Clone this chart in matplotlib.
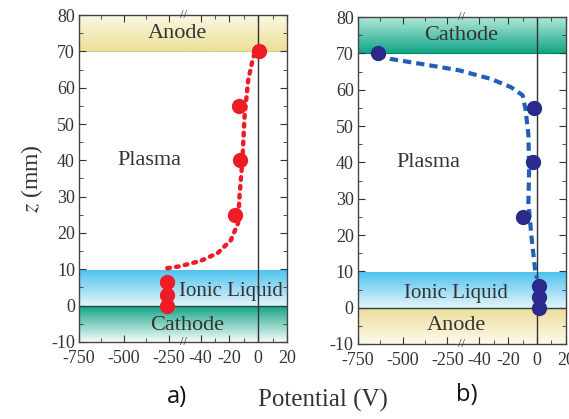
import numpy as np
import matplotlib
matplotlib.use("Agg")
import matplotlib.pyplot as plt
from matplotlib.colors import LinearSegmentedColormap

plt.rcParams["font.family"] = ["Liberation Serif", "DejaVu Serif"]
plt.rcParams["mathtext.fontset"] = "stix"
plt.rcParams["axes.unicode_minus"] = False

# broken potential axis: [-750, -170] | [-52, 20]
brk_v = [-750, -170, -52, 20]
brk_t = [0.0, 0.4995, 0.5005, 1.0]

xticks = [-750, -500, -250, -40, -20, 0, 20]
xminor = [-625, -375, -30, -10, 10]

# panel a) measured points
a_v = [-260, -260, -260, -16, -12.5, -13, 0.5]
a_z = [0, 3, 6.5, 25, 40, 55, 70]
# panel a) fitted curve (read off)
a_fit_v = [-258, -190, -40, -28, -19, -14, -13, -11, -9.5, -7, -3.5, -1]
a_fit_z = [10.3, 10.8, 12.3, 14.5, 18, 22.7, 30, 40, 52, 62, 68.4, 70.4]

# panel b) measured points
b_v = [1, 1, 1, -10, -3, -2, -640]
b_z = [0, 3, 6, 25, 40, 55, 70]
b_fit_v = [-640, -568, -381, -188, -32, -18, -10, -8, -6, -5.5, -6, -4, -1.4, 0]
b_fit_z = [70, 68.5, 67, 65.4, 63, 60.7, 58.5, 54.7, 47.5, 38, 29, 20, 10.6, 8]

SERIF = ["Liberation Serif", "DejaVu Serif"]
INK = "#333333"


def fwd(x):
    return np.interp(x, brk_v, brk_t)


def inv(t):
    return np.interp(t, brk_t, brk_v)


def band(ax, z0, z1, c_bottom, c_top):
    cmap = LinearSegmentedColormap.from_list("g", [c_bottom, c_top])
    grad = np.linspace(0, 1, 100).reshape(-1, 1)
    ax.imshow(grad, cmap=cmap, origin="lower", aspect="auto",
              extent=(0, 1, z0, z1), transform=ax.get_yaxis_transform(),
              zorder=0, interpolation="bilinear")


def setup(ax):
    ax.set_xscale("function", functions=(fwd, inv))
    ax.set_xlim(-750, 20)
    ax.set_ylim(-10, 80)
    ax.set_xticks(xticks)
    ax.set_xticks(xminor, minor=True)
    ax.set_xticklabels([str(t) for t in xticks], fontfamily=SERIF)
    yt = list(range(-10, 81, 10))
    ax.set_yticks(yt)
    ax.set_yticklabels([str(t) for t in yt], fontfamily=SERIF)
    ax.set_yticks(range(-5, 81, 10), minor=True)
    ax.tick_params(which="both", direction="in", top=True, right=True,
                   labelsize=13, colors=INK)
    ax.tick_params(axis="x", pad=6)
    ax.tick_params(axis="y", pad=3)
    ax.tick_params(which="major", length=5)
    ax.tick_params(which="minor", length=3)
    for s in ax.spines.values():
        s.set_color("#444444")
        s.set_linewidth(1.0)
    ax.axvline(0, color=INK, lw=1.0, zorder=2)
    ax.axhline(0, color="#1d4b44", lw=1.0, zorder=2)
    # break marks
    for yy in (1.0, 0.0):
        ax.text(0.5, yy, "//", transform=ax.transAxes, ha="center",
                va="center", fontsize=9, color=INK, zorder=5)


fig = plt.figure(figsize=(5.69, 4.19), dpi=100)
ax1 = fig.add_axes([0.139, 0.184, 0.3656, 0.780])
ax2 = fig.add_axes([0.629, 0.179, 0.3656, 0.780])

# ---- panel a
setup(ax1)
band(ax1, 70, 80, "#ece098", "#fbf9e6")
band(ax1, 0, 10, "#e3f4fb", "#4cc2ee")
band(ax1, -10, 0, "#f2fbf8", "#11a386")
ax1.axhline(70, color="#d8cf90", lw=0.8, zorder=1)
ax1.plot(a_fit_v, a_fit_z, ls=(0, (0.6, 1.4)), color="#ee1c25", lw=3.2,
         dash_capstyle="round", zorder=3)
ax1.plot(a_v, a_z, "o", color="#ee1c25", ms=10, zorder=4)
ax1.text(-200, 75, "Anode", fontsize=16, ha="center", va="center", color=INK)
ax1.text(-355, 40, "Plasma", fontsize=16, ha="center", va="center", color=INK)
ax1.text(-19, 4, "Ionic Liquid", fontsize=15, ha="center", va="center", color=INK)
ax1.text(-49, -5.5, "Cathode", fontsize=16, ha="center", va="center", color=INK)
ax1.set_ylabel("$z$ (mm)", fontsize=17, color=INK, labelpad=4)

# ---- panel b
setup(ax2)
band(ax2, 70, 80, "#13a888", "#b6e8dc")
band(ax2, 0, 10, "#e3f4fb", "#4cc2ee")
band(ax2, -10, 0, "#fcfaec", "#eedc98")
ax2.axhline(70, color="#0e7f69", lw=0.8, zorder=1)
ax2.plot(b_fit_v, b_fit_z, ls=(0, (2.0, 1.2)), color="#1f60b8", lw=3.0, zorder=3)
ax2.plot(b_v, b_z, "o", color="#2b2a8c", ms=10, zorder=4)
ax2.text(-175, 75, "Cathode", fontsize=16, ha="center", va="center", color=INK)
ax2.text(-355, 40, "Plasma", fontsize=16, ha="center", va="center", color=INK)
ax2.text(-200, 4, "Ionic Liquid", fontsize=15, ha="center", va="center", color=INK)
ax2.text(-200, -5, "Anode", fontsize=16, ha="center", va="center", color=INK)

fig.text(0.568, 0.045, "Potential (V)", fontsize=18, ha="center", va="center",
         color=INK)
fig.text(0.311, 0.052, "a)", fontsize=17, ha="center", va="center",
         family=["Open Sans", "DejaVu Sans"], color="#111111")
fig.text(0.821, 0.057, "b)", fontsize=17, ha="center", va="center",
         family=["Open Sans", "DejaVu Sans"], color="#111111")

fig.savefig("out.png", dpi=100)
